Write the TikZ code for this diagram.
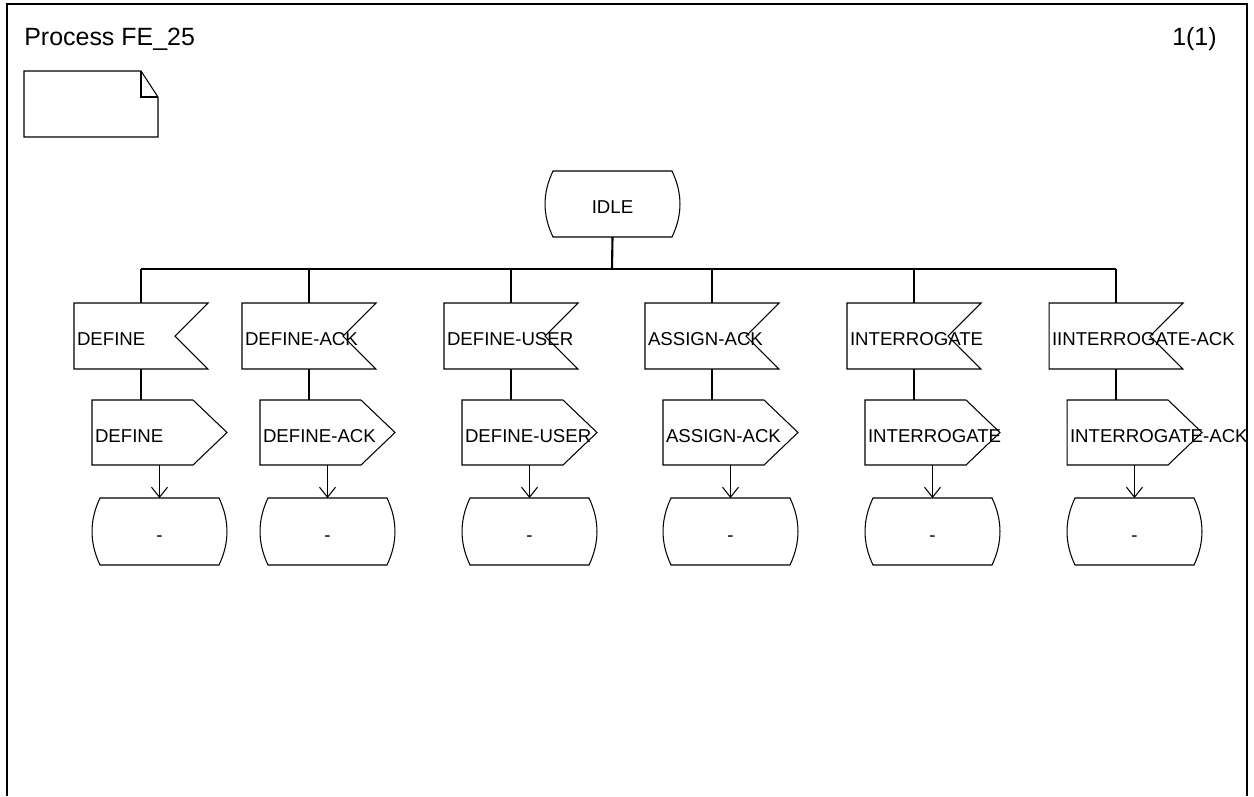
\documentclass[tikz,border=0pt]{standalone}
\usepackage{fontspec}
\setmainfont{Liberation Sans}
\usetikzlibrary{arrows.meta}

\tikzset{
  sdltext/.style={font=\fontsize{10.6}{12}\selectfont, outer sep=0pt, text height=0.38cm, text depth=0pt,
    execute at begin node={\hyphenpenalty=10000\exhyphenpenalty=10000}},
  sdlinput/.style={sdltext, text width=2.56cm, minimum height=1.32cm, inner xsep=0.06cm, inner ysep=0pt, align=left},
  sdloutput/.style={sdltext, text width=2.58cm, minimum height=1.3cm, inner xsep=0.06cm, inner ysep=0pt, align=left},
  sdlstate/.style={sdltext, minimum width=2.7cm, minimum height=1.34cm, inner sep=0pt},
  flow/.style={line width=0.6pt},
  flowarrow/.style={flow, -{Straight Barb[length=2mm,width=3.2mm]}},
}

\begin{document}
\begin{tikzpicture}[x=0.02cm, y=-0.02cm]
  \useasboundingbox (0,0) rectangle (1254,796);
  % frame and heading
  \draw[flow] (7,796) -- (7,4) -- (1247,4) -- (1247,796);
  \node[font=\fontsize{14.2}{16}\selectfont, anchor=base west, inner sep=0pt] (title) at (24,45) {Process FE\_25};
  \node[font=\fontsize{14.2}{16}\selectfont, anchor=base east, inner sep=0pt] (page) at (1217,45) {1(1)};
  % text symbol
  \draw[flow] (24,71) -- (141,71) -- (158,97) -- (158,137) -- (24,137) -- cycle;
  \draw[flow] (141,71) -- (141,97) -- (158,97);

  % start state
  \node[sdlstate, minimum height=1.32cm] (idle) at (612.5,204) {IDLE};
  \coordinate (fork) at (612,269);

  % inputs
  \node[sdlinput] (in1) at (141,336) {DEFINE};
  \node[sdlinput] (in2) at (309,336) {DEFINE-ACK};
  \node[sdlinput] (in3) at (511,336) {DEFINE-USER};
  \node[sdlinput] (in4) at (712,336) {ASSIGN-ACK};
  \node[sdlinput] (in5) at (914,336) {INTERROGATE};
  \node[sdlinput] (in6) at (1116,336) {IINTERROGATE-ACK};

  % outputs
  \node[sdloutput] (out1) at (159.5,432.5) {DEFINE};
  \node[sdloutput] (out2) at (327.5,432.5) {DEFINE-ACK};
  \node[sdloutput] (out3) at (529.5,432.5) {DEFINE-USER};
  \node[sdloutput] (out4) at (730.5,432.5) {ASSIGN-ACK};
  \node[sdloutput] (out5) at (932.5,432.5) {INTERROGATE};
  \node[sdloutput] (out6) at (1134.5,432.5) {INTERROGATE-ACK};

  % next states
  \node[sdlstate] (st1) at (159.5,531.5) {-};
  \node[sdlstate] (st2) at (327.5,531.5) {-};
  \node[sdlstate] (st3) at (529.5,531.5) {-};
  \node[sdlstate] (st4) at (730.5,531.5) {-};
  \node[sdlstate] (st5) at (932.5,531.5) {-};
  \node[sdlstate] (st6) at (1134.5,531.5) {-};

  % outlines
  \foreach \s in {idle,st1,st2,st3,st4,st5,st6}
    \draw[flow] ([xshift=0.16cm]\s.north west) -- ([xshift=-0.16cm]\s.north east)
      .. controls ([xshift=0.053cm,yshift=-0.447cm]\s.north east) and ([xshift=0.053cm,yshift=0.447cm]\s.south east) .. ([xshift=-0.16cm]\s.south east)
      -- ([xshift=0.16cm]\s.south west)
      .. controls ([xshift=-0.053cm,yshift=0.447cm]\s.south west) and ([xshift=-0.053cm,yshift=-0.447cm]\s.north west) .. ([xshift=0.16cm]\s.north west) -- cycle;
  \foreach \i in {1,...,6} {
    \draw[flow] (in\i.north west) -- (in\i.north east) -- ([xshift=-0.66cm]in\i.east) -- (in\i.south east) -- (in\i.south west) -- cycle;
    \draw[flow] (out\i.north west) -- ([xshift=-0.68cm]out\i.north east) -- (out\i.east) -- ([xshift=-0.68cm]out\i.south east) -- (out\i.south west) -- cycle;
  }

  % connectors
  \draw[flow, line width=1.2pt] (idle.south) -- (fork);
  \draw[flow] (in1.north |- fork) -- (in6.north |- fork);
  \draw[flow, line width=1.2pt] (in2.north |- fork) -- (in5.north |- fork);
  \foreach \i in {1,...,6} {
    \draw[flow] (in\i.north |- fork) -- (in\i.north);
    \draw[flow] (in\i.south) -- (in\i.south |- out\i.north);
    \draw[flowarrow] (out\i.south) -- (st\i.north);
  }
\end{tikzpicture}
\end{document}
